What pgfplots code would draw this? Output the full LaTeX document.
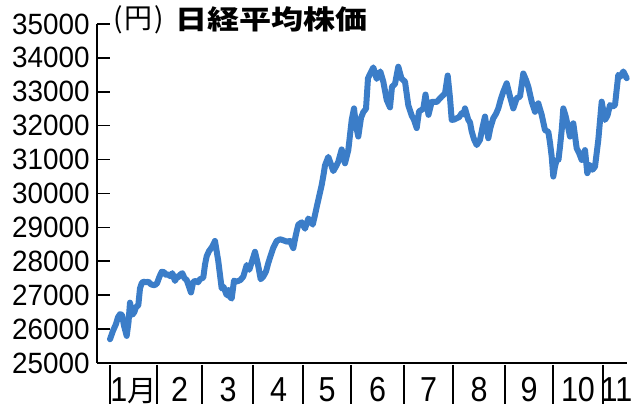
\documentclass[border=0pt]{standalone}
\usepackage{pgfplots}
\pgfplotsset{compat=1.18}
\usepackage{graphicx}
\usepackage{fontspec}
\setmainfont{Liberation Sans}
\newfontfamily\numfont[FakeStretch=0.95]{Liberation Sans}
\newfontfamily\monfont[FakeStretch=0.88]{Liberation Sans}
\newfontfamily\cjk{Noto Sans CJK JP}
\definecolor{nikkei}{RGB}{59,125,200}
\pgfplotstableread{
x y
110 25700
113 25950
116 26150
118 26350
120 26440
122 26420
124 26100
126.7 25800
128.5 26200
130 26780
132.3 26420
134.3 26500
136 26650
138.3 26700
140 27200
141.7 27350
143.3 27400
146 27380
148.3 27400
151 27320
153.3 27300
155 27300
157 27350
159.5 27550
161.7 27690
164 27680
166 27600
168 27620
170 27560
172.3 27650
175 27420
177 27550
178.3 27530
180 27600
182.3 27650
184.5 27500
186.7 27450
189 27250
191 27080
193.3 27400
196 27420
198 27380
200 27470
203.3 27520
205 27900
206.7 28150
209 28300
212 28420
215 28600
218.3 28000
221.7 27200
223.5 27250
226.7 27000
228.5 27150
230 26950
231.7 26900
234 27430
236 27400
238.3 27420
240.5 27450
243.3 27550
246.7 27890
249.3 27750
252 28000
255 28280
258 27900
260.7 27470
263.3 27550
266 27700
268.3 27950
271 28200
273.3 28400
276.7 28600
280 28650
283.3 28620
286.7 28580
290 28600
293.3 28390
296 28800
298.3 29080
301.7 29150
305 28960
308.3 29260
310.5 29200
312.7 29080
314.5 29300
316.7 29600
319 29900
321.7 30250
323.5 30550
325 30830
328.3 31080
330.5 30900
333.3 30660
336 30800
338.3 30940
341.7 31300
345 30890
348.3 31280
351.7 32170
354 32510
356 32000
358.3 31680
361 32230
363.3 32400
366 32500
368 33400
370.5 33550
373.3 33720
376.7 33380
380.3 33600
383.3 33300
386.7 32760
390 32540
392 33150
395 33230
398.3 33740
401.5 33390
405 33300
408.3 32600
411.7 32300
414 32170
416.7 31930
419 32420
423.3 32500
425.5 32920
428.5 32320
431.7 32700
436.7 32700
441.7 32860
445 32950
447.7 33480
450 32820
451.7 32170
454 32180
456.7 32220
459 32250
461.7 32370
463.5 32330
465 32510
468.3 32170
470 32100
471.7 31830
474 31600
476.7 31430
480 31580
482.5 31950
485 32270
488.3 31630
490.5 31950
493.3 32220
496 32350
498.3 32510
501 32800
503.3 33000
506.7 33250
510 32860
513.3 32510
516.7 32810
520 32860
523.3 33540
526 33350
528.3 33150
531.7 32710
535 32410
538.3 32660
541.7 32320
545 31870
548.3 31820
550 31500
551.7 31090
553.3 30500
555 30800
556.7 30990
558.5 31000
560 31380
561.8 31900
563.3 32510
565.5 32300
567.3 32070
570 31680
573.3 32070
575 31700
576.7 31330
579 31200
581.7 30990
585 31280
587.3 30600
590 30840
592.5 30700
595 30790
598.3 31580
601.7 32710
603.5 32400
605 32170
607.5 32300
610 32610
612.5 32560
615 32610
618.3 33500
620.5 33450
623.3 33600
626.7 33400
}\nikkeidata
\begin{document}
\begin{tikzpicture}
\useasboundingbox (-72.75pt,-37.5pt) rectangle (407.25pt,272.25pt);
\begin{axis}[
  scale only axis,
  width=397.5pt, height=254.25pt,
  xmin=97, xmax=627, ymin=25000, ymax=35000,
  axis x line*=bottom, axis y line*=left,
  axis line style={line width=1.2pt, black},
  clip=false,
  scaled y ticks=false, scaled x ticks=false,
  tick align=inside,
  major tick length=9.5pt,
  ytick={25000,26000,27000,28000,29000,30000,31000,32000,33000,34000,35000},
  yticklabels={25000,26000,27000,28000,29000,30000,31000,32000,33000,34000,35000},
  ytick style={line width=1.2pt, black},
  yticklabel style={font=\numfont\fontsize{22pt}{22pt}\selectfont, anchor=east, inner sep=0pt, xshift=-5.25pt},
  xtick={133.5,179.5,228,278.5,327,377.5,428.5,479,529,578,616.5},
  xticklabels={1{\cjk\fontsize{22pt}{22pt}\selectfont 月},2,3,4,5,6,7,8,9,10,11},
  xtick style={draw=none},
  xticklabel style={font=\monfont\fontsize{26pt}{26pt}\selectfont, anchor=base, inner sep=0pt, yshift=-29pt},
]
\addplot[nikkei, line width=4.5pt, line join=round, line cap=round] table[x=x, y=y] {\nikkeidata};
\pgfplotsinvokeforeach{110,157,202,253,303,351,404,453,505,553,603}{
  \draw[line width=1.1pt] ([yshift=-1.5pt]axis cs:#1,25000) -- ([yshift=-30.75pt]axis cs:#1,25000);
}
\end{axis}
\node[anchor=west, inner sep=0pt] at (12pt,257.5pt) {\cjk\fontsize{21pt}{21pt}\selectfont (\kern1.5pt 円\kern1.5pt)};
\node[anchor=west, inner sep=0pt] at (58.5pt,257.5pt) {\scalebox{1.2}[1]{\cjk\bfseries\fontsize{20pt}{20pt}\selectfont 日経平均株価}};
\end{tikzpicture}
\end{document}
